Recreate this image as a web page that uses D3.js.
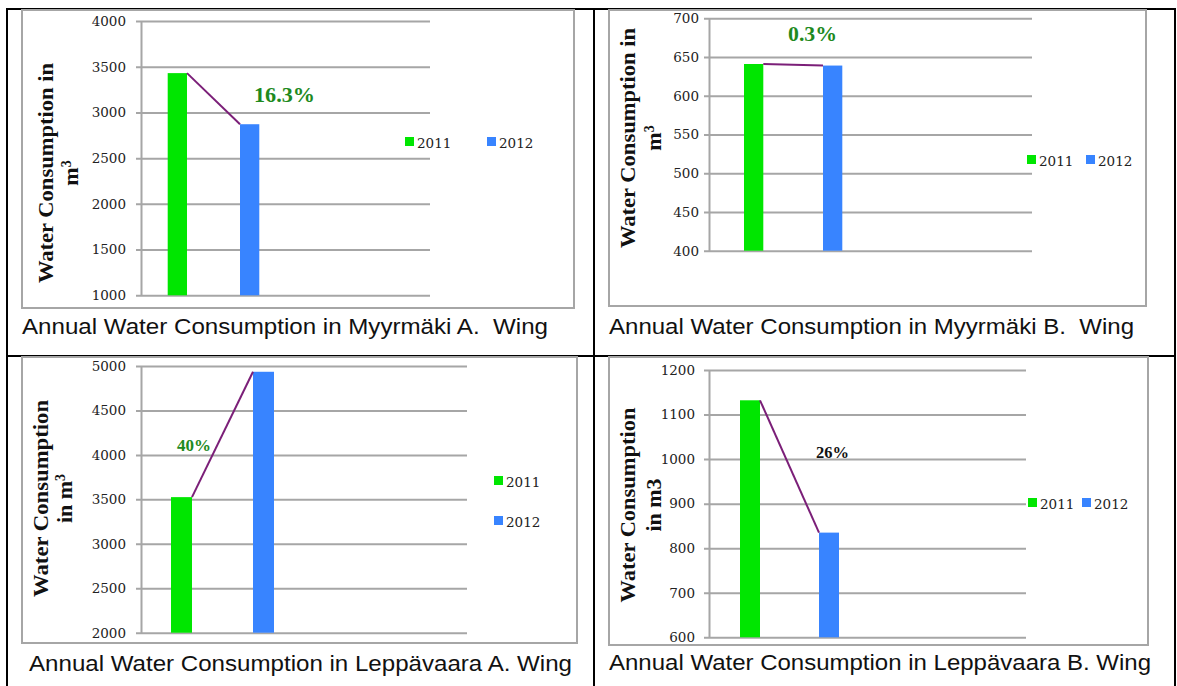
<!DOCTYPE html>
<html>
<head>
<meta charset="utf-8">
<script src="https://cdn.jsdelivr.net/npm/d3@7"></script>
<style>
  body { margin: 0; background: #fff; }
  svg { display: block; }
  .tick text { font-family: "DejaVu Serif", serif; font-size: 13.5px; fill: #222; }
</style>
</head>
<body>
<svg id="chart" width="1177" height="686"></svg>
<script>
// Annual water consumption (m3) per wing, 2011 vs 2012
const years = ["2011", "2012"];
const myyrmakiA = [3430, 2871];
const myyrmakiB = [641, 639];
const leppavaaraA = [3525, 4935];
const leppavaaraB = [1132, 835];

const ticksMyyrmakiA = [1000, 1500, 2000, 2500, 3000, 3500, 4000];
const ticksMyyrmakiB = [400, 450, 500, 550, 600, 650, 700];
const ticksLeppavaaraA = [2000, 2500, 3000, 3500, 4000, 4500, 5000];
const ticksLeppavaaraB = [600, 700, 800, 900, 1000, 1100, 1200];

const changeLabels = ["16.3%", "0.3%", "40%", "26%"];
const captions = [
  "Annual Water Consumption in Myyrmäki A.  Wing",
  "Annual Water Consumption in Myyrmäki B.  Wing",
  "Annual Water Consumption in Leppävaara A. Wing",
  "Annual Water Consumption in Leppävaara B. Wing"
];
const axisTitles = [
  [{ text: "Water Consumption in" }, { text: "m", sup: "3" }],
  [{ text: "Water Consumption in" }, { text: "m", sup: "3" }],
  [{ text: "Water Consumption" }, { text: "in m", sup: "3" }],
  [{ text: "Water Consumption" }, { text: "in m3" }]
];

const seriesColors = ["#00e600", "#3884ff"];
const lineColor = "#7b1f78";
const gridColor = "#a6a6a6";

// Layout for each of the four panels
const panels = [
  {
    values: myyrmakiA, ticks: ticksMyyrmakiA,
    box: [22, 10, 552, 298],
    axisX: 141, gridRight: 430, top: 21, bottom: 295.3, pad: 15,
    barStart: 167.7, barW: 19.3, step: 72.3,
    label: { x: 254, y: 102, size: 22, len: 61, color: "#1e8a1e" },
    legend: { x: 405, y: 137, dx: 82, dy: 0 },
    title: { cy: 173, xs: [52.6, 78], lens: [220, null] },
    caption: { x: 22, y: 334, len: 526 }
  },
  {
    values: myyrmakiB, ticks: ticksMyyrmakiB,
    box: [609, 10, 537, 296],
    axisX: 709, gridRight: 1032, top: 18.3, bottom: 250.7, pad: 10,
    barStart: 744, barW: 19.3, step: 79,
    label: { x: 788, y: 41, size: 22, len: 49, color: "#1e8a1e" },
    legend: { x: 1027, y: 155, dx: 59, dy: 0 },
    title: { cy: 138, xs: [635, 661], lens: [220, null] },
    caption: { x: 609, y: 334, len: 525 }
  },
  {
    values: leppavaaraA, ticks: ticksLeppavaaraA,
    box: [22, 357, 555, 286],
    axisX: 141, gridRight: 467, top: 366, bottom: 632.7, pad: 15,
    barStart: 171, barW: 21, step: 82,
    label: { x: 177, y: 451, size: 17, len: 34, color: "#1e8a1e" },
    legend: { x: 494, y: 476, dx: 0, dy: 40 },
    title: { cy: 498.5, xs: [47.6, 72], lens: [197, null] },
    caption: { x: 29, y: 671, len: 543 }
  },
  {
    values: leppavaaraB, ticks: ticksLeppavaaraB,
    box: [609, 357, 539, 288],
    axisX: 709, gridRight: 1026, top: 370, bottom: 637.3, pad: 14,
    barStart: 740, barW: 20, step: 79,
    label: { x: 816, y: 458, size: 16, len: 33, color: "#111" },
    legend: { x: 1028, y: 498, dx: 54, dy: 0 },
    title: { cy: 505, xs: [635, 661], lens: [195, null] },
    caption: { x: 609, y: 670, len: 542 }
  }
];

const svg = d3.select("#chart");

// Table frame around the four panels
const frame = svg.append("g").attr("stroke", "#000").attr("stroke-width", 2);
[[6, 9, 1176, 9], [6, 356, 1176, 356], [7, 8, 7, 686], [594, 8, 594, 686], [1175, 8, 1175, 686]]
  .forEach(([x1, y1, x2, y2]) => frame.append("line")
    .attr("x1", x1).attr("y1", y1).attr("x2", x2).attr("y2", y2));

panels.forEach((p, i) => {
  const g = svg.append("g");

  // Chart area border
  g.append("rect")
    .attr("x", p.box[0]).attr("y", p.box[1])
    .attr("width", p.box[2]).attr("height", p.box[3])
    .attr("fill", "none").attr("stroke", gridColor).attr("stroke-width", 2);

  const y = d3.scaleLinear()
    .domain([p.ticks[0], p.ticks[p.ticks.length - 1]])
    .range([p.bottom, p.top]);

  const x = d3.scaleBand()
    .domain(years)
    .range([p.barStart, p.barStart + p.step + p.barW])
    .paddingInner(1 - p.barW / p.step)
    .paddingOuter(0);

  // Value axis with gridlines
  const width = p.gridRight - p.axisX;
  const axis = g.append("g")
    .attr("transform", `translate(${p.axisX},0)`)
    .call(d3.axisLeft(y)
      .tickValues(p.ticks)
      .tickFormat(d3.format("d"))
      .tickSizeInner(-width)
      .tickSizeOuter(0)
      .tickPadding(p.pad));
  axis.selectAll(".tick line")
    .attr("x1", -5).attr("x2", width)
    .attr("stroke", gridColor).attr("stroke-width", 2);
  axis.select(".domain").attr("stroke", gridColor).attr("stroke-width", 2);

  // Bars
  g.selectAll("rect.bar")
    .data(years)
    .join("rect")
    .attr("class", "bar")
    .attr("x", d => x(d))
    .attr("width", x.bandwidth())
    .attr("y", (d, j) => y(p.values[j]))
    .attr("height", (d, j) => y(p.ticks[0]) - y(p.values[j]))
    .attr("fill", (d, j) => seriesColors[j]);

  // Connector from the 2011 bar top to the 2012 bar top
  const connector = d3.line()
    .x(d => d[0])
    .y(d => y(d[1]));
  g.append("path")
    .attr("d", connector([
      [x(years[0]) + x.bandwidth(), p.values[0]],
      [x(years[1]), p.values[1]]
    ]))
    .attr("fill", "none").attr("stroke", lineColor).attr("stroke-width", 2);

  // Percentage change label
  g.append("text")
    .attr("x", p.label.x).attr("y", p.label.y)
    .attr("font-family", "'Liberation Serif', serif")
    .attr("font-weight", "bold")
    .attr("font-size", p.label.size)
    .attr("fill", p.label.color)
    .attr("textLength", p.label.len)
    .attr("lengthAdjust", "spacingAndGlyphs")
    .text(changeLabels[i]);

  // Legend
  const lg = g.append("g");
  years.forEach((yr, j) => {
    const lx = p.legend.x + j * p.legend.dx;
    const ly = p.legend.y + j * p.legend.dy;
    lg.append("rect").attr("x", lx).attr("y", ly).attr("width", 9).attr("height", 9)
      .attr("fill", seriesColors[j]);
    lg.append("text").attr("x", lx + 12).attr("y", ly + 11)
      .attr("font-family", "'DejaVu Serif', serif").attr("font-size", 13.5).attr("fill", "#222")
      .text(yr);
  });

  // Rotated axis title
  axisTitles[i].forEach((ln, k) => {
    const t = g.append("text")
      .attr("transform", `translate(${p.title.xs[k]},${p.title.cy}) rotate(-90)`)
      .attr("text-anchor", "middle")
      .attr("font-family", "'Liberation Serif', serif")
      .attr("font-weight", "bold")
      .attr("font-size", 22)
      .attr("fill", "#111");
    if (ln.sup) {
      t.append("tspan").text(ln.text);
      t.append("tspan").attr("dy", -7).attr("font-size", 14).text(ln.sup);
    } else {
      t.text(ln.text);
      if (p.title.lens[k]) t.attr("textLength", p.title.lens[k]).attr("lengthAdjust", "spacingAndGlyphs");
    }
  });

  // Caption under the chart
  g.append("text")
    .attr("x", p.caption.x).attr("y", p.caption.y)
    .attr("font-family", "'Liberation Sans', Arial, sans-serif")
    .attr("font-size", 22)
    .attr("fill", "#111")
    .style("white-space", "pre")
    .attr("textLength", p.caption.len)
    .attr("lengthAdjust", "spacingAndGlyphs")
    .text(captions[i]);
});
</script>
</body>
</html>
